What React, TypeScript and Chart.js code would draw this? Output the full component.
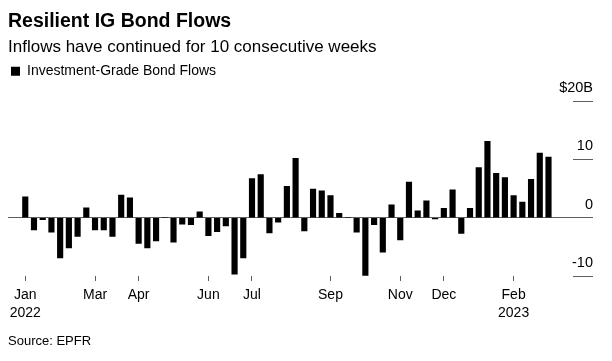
import React, { useEffect, useRef } from 'react';
import { Chart, registerables } from 'chart.js';

Chart.register(...registerables);

const FONT = "'Liberation Sans', Arial, Helvetica, sans-serif";

const chartTitle = 'Resilient IG Bond Flows';
const chartSubtitle = 'Inflows have continued for 10 consecutive weeks';
const seriesName = 'Investment-Grade Bond Flows';
const sourceNote = 'Source: EPFR';

// Weekly flows, $ billions (week 0 = first week of Jan 2022)
const flows = [
  3.6, -2.1, -0.35, -2.5, -6.9, -5.2, -3.2, 1.7, -2.1, -2.1,
  -3.2, 3.9, 3.4, -4.4, -5.2, -4.0, 0, -4.2, -1.1, -1.2,
  1.0, -3.1, -2.4, -1.4, -9.7, -6.9, 6.7, 7.4, -2.6, -0.75,
  5.4, 10.2, -2.25, 4.9, 4.6, 3.8, 0.75, 0, -2.5, -9.9,
  -1.2, -5.9, 2.2, -3.8, 6.1, 1.2, 2.9, -0.2, 1.6, 4.8,
  -2.7, 1.6, 8.6, 13.1, 7.6, 6.9, 3.8, 2.7, 6.6, 11.1,
  10.4,
];

// x-axis month ticks (week index where each labelled month starts)
const tickWeekIndex = [0, 8, 13, 21, 26, 35, 43, 48, 56];
const tickMonths = ['Jan', 'Mar', 'Apr', 'Jun', 'Jul', 'Sep', 'Nov', 'Dec', 'Feb'];
const tickYears = ['2022', '', '', '', '', '', '', '', '2023'];

// y-axis ticks
const yTicks = [-10, 0, 10, 20];
const yMin = -10;
const yMax = 22.2;
const xMin = -1.98;
const xMax = 62.81;

const LINE = '#5e5e5e';

export default function App() {
  const ref = useRef<HTMLCanvasElement>(null);

  useEffect(() => {
    if (!ref.current) return;
    const chart = new Chart(ref.current, {
      type: 'bar',
      data: {
        datasets: [
          {
            label: seriesName,
            data: flows.map((v, i) => ({ x: i, y: v })),
            backgroundColor: '#000',
            borderWidth: 0,
            barThickness: 5.5,
          } as any,
        ],
      },
      options: {
        animation: false,
        responsive: false,
        devicePixelRatio: 1,
        layout: { padding: { top: 0, left: 8, right: 19, bottom: 12 } },
        plugins: {
          title: {
            display: true,
            text: chartTitle,
            align: 'start',
            color: '#000',
            font: { family: FONT, size: 19.5, weight: 'bold' },
            padding: { top: 10, bottom: 0 },
          },
          subtitle: {
            display: true,
            text: chartSubtitle,
            align: 'start',
            color: '#000',
            font: { family: FONT, size: 17 },
            padding: { top: 3.4, bottom: 4.1 },
          },
          legend: {
            display: true,
            position: 'top',
            align: 'start',
            labels: {
              boxWidth: 9,
              boxHeight: 9,
              padding: 3,
              color: '#000',
              font: { family: FONT, size: 14 },
            },
          },
          tooltip: { enabled: false },
        },
        scales: {
          x: {
            type: 'linear',
            min: xMin,
            max: xMax,
            offset: false,
            afterBuildTicks: (s: any) => {
              s.ticks = tickWeekIndex.map((v) => ({ value: v }));
            },
            ticks: {
              autoSkip: false,
              maxRotation: 0,
              minRotation: 0,
              padding: 5,
              color: '#000',
              font: { family: FONT, size: 14, lineHeight: 1.3 },
              callback: (value: any) => {
                const k = tickWeekIndex.indexOf(Number(value));
                if (k < 0) return '';
                return tickYears[k] ? [tickMonths[k], tickYears[k]] : tickMonths[k];
              },
            },
            grid: {
              offset: false,
              drawOnChartArea: false,
              drawTicks: true,
              tickLength: 5,
              tickColor: LINE,
              tickWidth: 1,
            },
            border: { display: false },
            title: {
              display: true,
              text: sourceNote,
              align: 'start',
              color: '#000',
              font: { family: FONT, size: 13 },
              padding: { top: 6, bottom: 0 },
            },
          } as any,
          y: {
            type: 'linear',
            position: 'right',
            min: yMin,
            max: yMax,
            afterBuildTicks: (s: any) => {
              s.ticks = yTicks.map((v) => ({ value: v }));
            },
            afterFit: (s: any) => {
              s.width = 20;
            },
            ticks: {
              mirror: true,
              crossAlign: 'near',
              padding: 20,
              labelOffset: -13,
              color: '#000',
              font: { family: FONT, size: 14.5 },
              callback: (v: any) => (Number(v) === 20 ? '$20B' : String(v)),
            },
            grid: {
              color: (ctx: any) =>
                ctx.tick && ctx.tick.value === 0 ? LINE : 'rgba(0,0,0,0)',
              tickColor: LINE,
              tickLength: 20,
              lineWidth: 1,
            },
            border: { display: false },
          } as any,
        },
      },
    });
    return () => chart.destroy();
  }, []);

  return (
    <div
      style={{
        position: 'fixed',
        left: 0,
        top: 0,
        width: 612,
        height: 361,
        background: '#fff',
      }}
    >
      <canvas ref={ref} width={612} height={361} style={{ display: 'block' }} />
    </div>
  );
}
